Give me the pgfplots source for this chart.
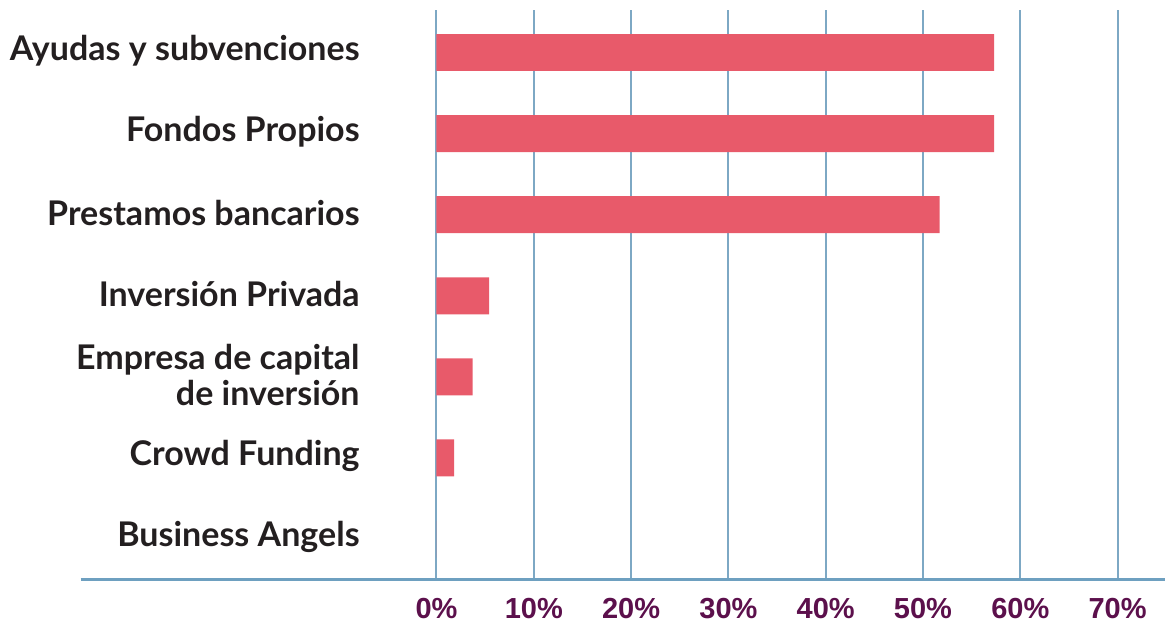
\documentclass[border=0pt]{standalone}
\usepackage{pgfplots}
\pgfplotsset{compat=1.18}
\usepackage{fontspec}
\setmainfont{Lato}
\newfontfamily\tickfont{Liberation Sans}
\definecolor{barred}{RGB}{232,90,106}
\definecolor{gridblue}{RGB}{125,168,196}
\definecolor{baseblue}{RGB}{110,160,192}
\definecolor{tickpurple}{RGB}{92,16,76}
\definecolor{labelblack}{RGB}{35,31,32}
\begin{document}
\begin{tikzpicture}
\useasboundingbox (-218.25pt,-22pt) rectangle (364.25pt,289.5pt);
\begin{axis}[
  at={(0,0)}, anchor=south west,
  scale only axis, width=364.25pt, height=284.5pt,
  xmin=0, xmax=74.87, ymin=-0.493, ymax=6.524,
  xbar, bar width=0.456,
  axis line style={draw=none},
  clip=false,
  major tick length=0pt,
  tick style={draw=none},
  xtick={0,10,20,30,40,50,60,70},
  xticklabels={0\%,10\%,20\%,30\%,40\%,50\%,60\%,70\%},
  xticklabel style={anchor=north, inner sep=0pt, yshift=-9.5pt, text=tickpurple, font=\tickfont\bfseries\fontsize{14.5}{16}\selectfont},
  ytick={0,1,2,3,4,5,6},
  yticklabels={Business Angels, Crowd Funding, {Empresa de capital\\de inversión}, Inversión Privada, Prestamos bancarios, Fondos Propios, Ayudas y subvenciones},
  yticklabel style={anchor=east, align=right, inner sep=0pt, xshift=-38.25pt, yshift=1pt, text=labelblack, font=\bfseries\fontsize{17}{18}\selectfont},
  xmajorgrids,
  grid style={gridblue, line width=1pt},
]
\addplot[fill=barred, draw=none] coordinates {(0,0) (1.8,1) (3.7,2) (5.4,3) (51.7,4) (57.3,5) (57.3,6)};
\draw[baseblue, line width=1.5pt] (axis cs:-36.57,-0.493) -- (axis cs:74.87,-0.493);
\end{axis}
\end{tikzpicture}
\end{document}
